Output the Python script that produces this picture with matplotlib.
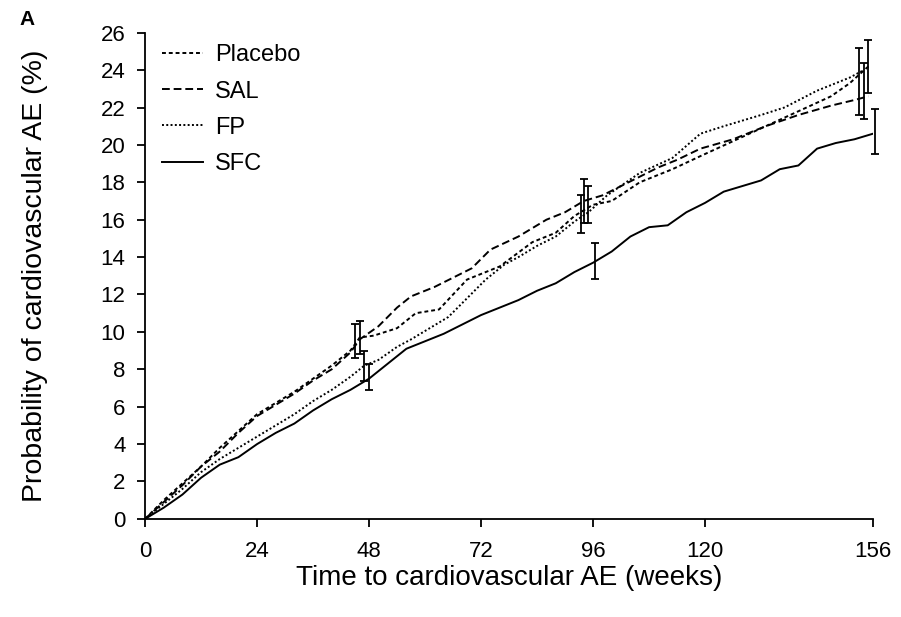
import numpy as np
import matplotlib.pyplot as plt

plt.rcParams['font.family'] = ['Liberation Sans', 'DejaVu Sans']

# Kaplan-Meier style curves (weeks, %)
placebo_w = [0, 4, 8, 12, 16, 20, 24, 28, 32, 36, 40, 44, 46, 49, 54, 58, 63, 69, 76, 83, 88, 92, 96,
             100, 106, 113, 119, 126, 133, 140, 147, 151, 155]
placebo_p = [0, 1.0, 1.9, 2.8, 3.8, 4.7, 5.6, 6.2, 6.8, 7.5, 8.2, 9.0, 9.7, 9.8, 10.2, 11.0, 11.2, 12.8,
             13.5, 14.8, 15.3, 16.2, 16.8, 17.0, 18.0, 18.7, 19.4, 20.2, 21.0, 21.8, 22.6, 23.3, 24.2]

sal_w = [0, 4, 8, 12, 16, 20, 24, 28, 32, 36, 40, 44, 46, 50, 54, 57, 62, 66, 70, 74, 80, 86, 90, 94,
         98, 102, 106, 110, 114, 119, 126, 133, 140, 147, 152, 155]
sal_p = [0, 0.9, 1.8, 2.8, 3.6, 4.6, 5.5, 6.1, 6.7, 7.4, 8.0, 8.9, 9.6, 10.3, 11.3, 11.9, 12.4, 12.9,
         13.4, 14.4, 15.1, 16.0, 16.4, 17.0, 17.3, 17.8, 18.3, 18.8, 19.2, 19.8, 20.3, 21.0, 21.6, 22.1,
         22.4, 22.6]

fp_w = [0, 4, 8, 12, 16, 20, 24, 28, 32, 36, 40, 44, 47, 50, 54, 57, 61, 65, 69, 73, 77, 80, 84, 88,
        92, 95, 99, 106, 113, 119, 124, 128, 132, 137, 144, 151, 154]
fp_p = [0, 0.8, 1.6, 2.5, 3.2, 3.8, 4.4, 5.0, 5.6, 6.3, 6.9, 7.6, 8.2, 8.5, 9.2, 9.6, 10.2, 10.8, 11.8,
        12.8, 13.6, 14.0, 14.6, 15.1, 15.9, 16.4, 17.3, 18.5, 19.3, 20.6, 21.0, 21.3, 21.6, 22.0, 22.9,
        23.6, 24.0]

sfc_w = [0, 4, 8, 12, 16, 20, 24, 28, 32, 36, 40, 44, 48, 52, 56, 60, 64, 68, 72, 76, 80, 84, 88, 92,
         96, 100, 104, 108, 112, 116, 120, 124, 128, 132, 136, 140, 144, 148, 152, 156]
sfc_p = [0, 0.6, 1.3, 2.2, 2.9, 3.3, 4.0, 4.6, 5.1, 5.8, 6.4, 6.9, 7.5, 8.3, 9.1, 9.5, 9.9, 10.4, 10.9,
         11.3, 11.7, 12.2, 12.6, 13.2, 13.7, 14.3, 15.1, 15.6, 15.7, 16.4, 16.9, 17.5, 17.8, 18.1, 18.7,
         18.9, 19.8, 20.1, 20.3, 20.6]

# error bars (95% CI) at the three time points
placebo_eb_w = [46, 94, 155]
placebo_eb_p = [9.7, 17.0, 24.2]
placebo_eb_e = [0.9, 1.2, 1.4]
sal_eb_w = [45, 95, 154]
sal_eb_p = [9.5, 16.8, 22.9]
sal_eb_e = [0.9, 1.0, 1.5]
fp_eb_w = [47, 93.5, 153]
fp_eb_p = [8.2, 16.3, 23.4]
fp_eb_e = [0.8, 1.0, 1.8]
sfc_eb_w = [48, 96.5, 156.5]
sfc_eb_p = [7.6, 13.8, 20.7]
sfc_eb_e = [0.7, 0.95, 1.2]

fig = plt.figure(figsize=(9.01, 6.17), dpi=100)
ax = fig.add_axes([0.161, 0.159, 0.808, 0.788])

lw = 1.4
ax.plot(placebo_w, placebo_p, color='black', lw=lw, dashes=(2, 1.5), label='Placebo')
ax.plot(sal_w, sal_p, color='black', lw=lw, dashes=(4, 2), label='SAL')
ax.plot(fp_w, fp_p, color='black', lw=lw, dashes=(1, 1.2), label='FP')
ax.plot(sfc_w, sfc_p, color='black', lw=lw, label='SFC')

for w, p, e in [(placebo_eb_w, placebo_eb_p, placebo_eb_e), (sal_eb_w, sal_eb_p, sal_eb_e),
                (fp_eb_w, fp_eb_p, fp_eb_e), (sfc_eb_w, sfc_eb_p, sfc_eb_e)]:
    ax.errorbar(w, p, yerr=e, fmt='none', ecolor='black', elinewidth=1.3, capsize=3, capthick=1.3,
                clip_on=False)

ax.set_xlim(0, 156)
ax.set_ylim(0, 26)
ax.set_xticks([0, 24, 48, 72, 96, 120, 156])
ax.set_yticks(np.arange(0, 27, 2))
ax.spines['top'].set_visible(False)
ax.spines['right'].set_visible(False)
ax.spines['left'].set_linewidth(1.3)
ax.spines['bottom'].set_linewidth(1.3)
ax.tick_params(direction='out', length=6, width=1.3, labelsize=16)
ax.tick_params(axis='y', pad=8)
ax.tick_params(axis='x', pad=10)
ax.set_xlabel('Time to cardiovascular AE (weeks)', fontsize=20, labelpad=2)
ax.set_ylabel('Probability of cardiovascular AE (%)', fontsize=20.5, labelpad=38)

ax.legend(loc='upper left', frameon=False, fontsize=17, handlelength=1.75, handletextpad=0.5,
          labelspacing=0.6, bbox_to_anchor=(0.0, 1.01), borderaxespad=0.3)

fig.text(0.022, 0.968, 'A', fontsize=15, fontweight='bold', va='center')

fig.savefig('out.png', dpi=100)
